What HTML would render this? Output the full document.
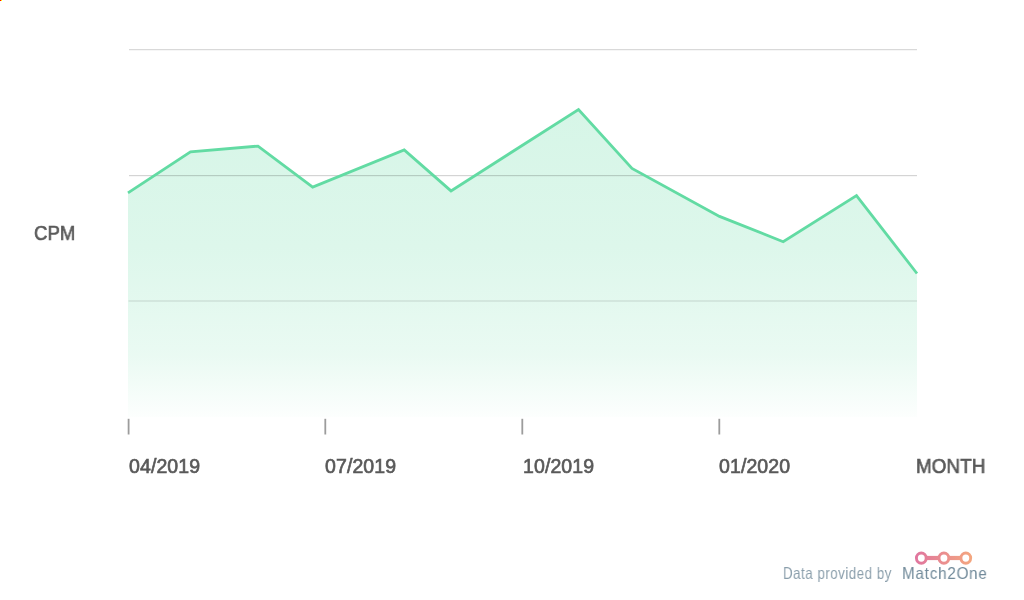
<!DOCTYPE html>
<html>
<head>
<meta charset="utf-8">
<style>
html,body{margin:0;padding:0;background:#fff;}
body{width:1024px;height:600px;position:relative;overflow:hidden;font-family:"Liberation Sans",sans-serif;}
.lbl{position:absolute;will-change:transform;font-size:19.5px;letter-spacing:0.1px;color:#595959;-webkit-text-stroke:0.65px #595959;line-height:1;white-space:nowrap;}
#credit{position:absolute;left:783px;top:565px;font-size:16.5px;color:#8a9eab;white-space:nowrap;line-height:1;letter-spacing:0.6px;transform:scaleX(0.81);transform-origin:0 0;will-change:transform;}
#brand{position:absolute;left:902px;top:565px;font-size:16.5px;color:#718a9a;white-space:nowrap;line-height:1;letter-spacing:0.8px;transform:scaleX(0.925);transform-origin:0 0;will-change:transform;}
svg{position:absolute;left:0;top:0;}
</style>
</head>
<body>
<svg width="1024" height="600" viewBox="0 0 1024 600">
  <defs>
    <linearGradient id="fg" x1="0" y1="0" x2="0" y2="1" gradientUnits="objectBoundingBox">
      <stop offset="0" stop-color="#5dd9a0" stop-opacity="0.25"/>
      <stop offset="0.45" stop-color="#5dd9a0" stop-opacity="0.21"/>
      <stop offset="0.8" stop-color="#5dd9a0" stop-opacity="0.13"/>
      <stop offset="1" stop-color="#5dd9a0" stop-opacity="0.015"/>
    </linearGradient>
    <linearGradient id="lg" gradientUnits="userSpaceOnUse" x1="915" y1="0" x2="972" y2="0">
      <stop offset="0" stop-color="#e0759f"/>
      <stop offset="1" stop-color="#f4a77f"/>
    </linearGradient>
  </defs>
  <path d="M128,192.9 L190.5,151.9 L258,146.1 L312.7,187.1 L404.2,149.9 L451,190.9 L578.5,109.5 L632,168.4 L719.5,216.4 L783.2,241.7 L856.5,195.6 L917,273.5 L917,417 L128,417 Z" fill="url(#fg)"/>
  <g fill="#000" shape-rendering="crispEdges">
    <rect x="128.5" y="49" width="788.5" height="1" fill-opacity="0.15"/>
    <rect x="128.5" y="50" width="788.5" height="1" fill-opacity="0.035"/>
    <rect x="128.5" y="175" width="788.5" height="1" fill-opacity="0.17"/>
    <rect x="128.5" y="176" width="788.5" height="1" fill-opacity="0.03"/>
  </g>
  <line x1="128.5" y1="301" x2="917" y2="301" stroke="#000" stroke-opacity="0.14" stroke-width="1"/>
  <path d="M128,192.9 L190.5,151.9 L258,146.1 L312.7,187.1 L404.2,149.9 L451,190.9 L578.5,109.5 L632,168.4 L719.5,216.4 L783.2,241.7 L856.5,195.6 L917,273.5" fill="none" stroke="#62dba3" stroke-width="2.8" stroke-linejoin="miter"/>
  <g stroke="#9c9c9c" stroke-width="1.8">
    <line x1="128.6" y1="418.8" x2="128.6" y2="434.5"/>
    <line x1="325.3" y1="418.8" x2="325.3" y2="434.5"/>
    <line x1="522.3" y1="418.8" x2="522.3" y2="434.5"/>
    <line x1="719.3" y1="418.8" x2="719.3" y2="434.5"/>
  </g>
  <g fill="none" stroke="url(#lg)" stroke-width="2.9">
    <ellipse cx="921.3" cy="558.1" rx="4.9" ry="5.15"/>
    <ellipse cx="943.9" cy="558.1" rx="4.9" ry="5.15"/>
    <ellipse cx="965.8" cy="558.1" rx="4.9" ry="5.15"/>
  </g>
  <g fill="url(#lg)">
    <rect x="926" y="555.9" width="13" height="4.2"/>
    <rect x="948.5" y="555.9" width="12.5" height="4.2"/>
  </g>
</svg>
<div class="lbl" style="left:34px;top:223px;font-size:20px;letter-spacing:0;transform:scaleX(0.93);transform-origin:0 0;">CPM</div>
<div class="lbl" style="left:129px;top:457px;">04/2019</div>
<div class="lbl" style="left:325px;top:457px;">07/2019</div>
<div class="lbl" style="left:523px;top:457px;">10/2019</div>
<div class="lbl" style="left:719px;top:457px;">01/2020</div>
<div class="lbl" style="left:916px;top:457px;transform:scaleX(0.965);transform-origin:0 0;">MONTH</div>
<div id="credit">Data provided by</div>
<div id="brand">Match2One</div>
<div style="position:absolute;left:0;top:0;width:1px;height:1px;background:#f00"></div>
<div style="position:absolute;left:1px;top:0;width:1px;height:1px;background:#ff0"></div>
</body>
</html>
